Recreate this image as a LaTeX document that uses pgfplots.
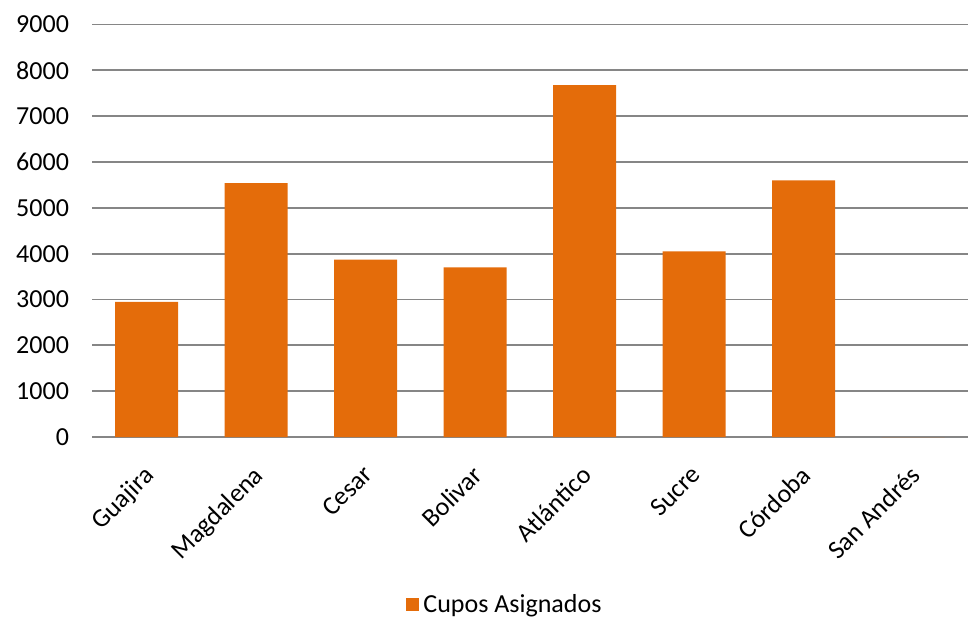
\documentclass[border=0pt]{standalone}
\usepackage{pgfplots}
\pgfplotsset{compat=1.18}
\usepackage{fontspec}
\setmainfont{Carlito}

\definecolor{barorange}{HTML}{E46C0A}
\definecolor{gridgray}{HTML}{868686}

\begin{document}
\begin{tikzpicture}
\begin{axis}[
    name=ax,
    scale only axis,
    width=438pt, height=206.25pt,
    ymin=0, ymax=9000,
    xmin=-0.5, xmax=7.5,
    ytick={0,1000,...,9000},
    xtick=data,
    xticklabels={Guajira, Magdalena, Cesar, Bolivar, Atlántico, Sucre, Córdoba, San Andrés},
    major tick length=0pt,
    axis line style={draw=none},
    ymajorgrids=true,
    grid style={gridgray, line width=0.9pt},
    ybar, bar width=31.5pt,
    font=\fontsize{13}{15}\selectfont,
    /pgf/number format/assume math mode=true,
    /pgf/number format/1000 sep={},
    yticklabel style={xshift=-8pt},
    xticklabel style={rotate=45, anchor=north east, inner sep=2pt, yshift=-6pt, xshift=-9pt},
    legend style={at={(0.4726,-0.407)}, anchor=center, draw=none, font=\fontsize{13}{15}\selectfont},
    legend image code/.code={\fill[barorange] (0pt,-3.25pt) rectangle (6.5pt,3.25pt);},
]
\addplot[fill=barorange, draw=none] coordinates {
(0,2950) (1,5540) (2,3870) (3,3700) (4,7680) (5,4050) (6,5600) (7,0)
};
\legend{Cupos Asignados}
\end{axis}
\pgfresetboundingbox
\path[use as bounding box] ([shift={(-46pt,-89.5pt)}]ax.south west) rectangle +(484pt,308pt);
\end{tikzpicture}
\end{document}
